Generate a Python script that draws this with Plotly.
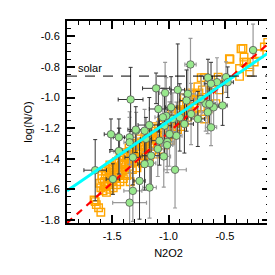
import plotly.graph_objects as go

# ---------------- data ----------------
# orange open squares (sample)
sq_x = [-1.66,-1.64,-1.62,-1.60,-1.65,
        -1.61,-1.60,-1.59,-1.58,-1.57,-1.56,-1.56,-1.55,-1.54,-1.53,-1.53,-1.52,-1.51,-1.50,-1.50,
        -1.49,-1.48,-1.47,-1.47,-1.46,-1.45,-1.44,-1.44,-1.43,-1.42,-1.41,-1.40,-1.40,-1.39,-1.38,
        -1.37,-1.37,-1.36,-1.35,-1.34,-1.34,-1.33,-1.32,-1.31,-1.30,-1.29,-1.28,-1.28,-1.27,-1.26,
        -1.25,-1.24,-1.23,-1.22,-1.21,-1.20,-1.19,-1.18,-1.17,-1.16,-1.15,-1.14,-1.13,-1.12,-1.11,
        -1.10,-1.09,-1.08,-1.07,-1.06,-1.05,-1.04,-1.03,-1.02,-1.01,-1.00,-0.99,-0.98,-0.97,-0.96,
        -0.95,-0.94,-0.93,-0.92,-0.91,-0.90,-0.89,-0.88,-0.87,-0.86,-0.85,-0.84,-0.83,-0.82,-0.80,
        -0.79,-0.78,-0.76,-0.75,-0.74,-0.72,-0.71,-0.70,-0.68,-0.68,-0.70,-0.65,-0.62,-0.58,-0.56,
        -0.55,-0.54,-0.46,-0.455,-0.37,-0.37,-0.357,-0.33,-0.33,-0.31,-0.28,-0.28,-0.24,-0.195,-0.15,
        -0.12,-0.34,
        -1.59,-1.57,-1.55,-1.54,-1.52,-1.51,-1.49,-1.48,-1.46,-1.45,-1.43,-1.42,-1.41,-1.39,-1.38,
        -1.36,-1.35,-1.33,-1.32,-1.30,-1.29,-1.27,-1.26,-1.24,-1.22,-1.20,-1.18,-1.16,-1.14,-1.12,
        -1.10,-1.08,-1.06,-1.04,-1.02,-0.99,-0.97,-0.94,-0.91,-0.88,-0.86,-0.83,-0.81,-0.77,-0.73]
sq_y = [-1.67,-1.70,-1.72,-1.75,-1.68,
        -1.56,-1.59,-1.53,-1.61,-1.55,-1.50,-1.58,-1.62,-1.53,-1.47,-1.57,-1.60,-1.51,-1.45,-1.55,
        -1.59,-1.49,-1.43,-1.53,-1.57,-1.46,-1.41,-1.51,-1.55,-1.44,-1.48,-1.39,-1.53,-1.43,-1.47,
        -1.37,-1.51,-1.41,-1.45,-1.35,-1.55,-1.40,-1.47,-1.33,-1.42,-1.37,-1.30,-1.46,-1.34,-1.40,
        -1.29,-1.36,-1.43,-1.31,-1.26,-1.39,-1.33,-1.28,-1.41,-1.24,-1.35,-1.30,-1.22,-1.37,-1.27,
        -1.32,-1.20,-1.25,-1.34,-1.29,-1.18,-1.23,-1.31,-1.16,-1.26,-1.21,-1.14,-1.28,-1.19,-1.12,
        -1.24,-1.17,-1.10,-1.21,-1.15,-1.08,-1.19,-1.12,-1.05,-1.16,-1.09,-1.03,-1.13,-1.07,-1.01,
        -1.10,-1.04,-0.98,-1.07,-0.93,-1.01,-0.87,-0.95,-0.87,-1.14,-1.11,-1.075,-0.92,-1.04,-0.867,
        -0.95,-0.88,-0.747,-0.75,-0.862,-0.81,-0.681,-0.77,-0.736,-0.77,-0.80,-0.834,-0.768,-0.714,-0.67,
        -0.64,-0.68,
        -1.51,-1.58,-1.48,-1.56,-1.44,-1.54,-1.46,-1.52,-1.42,-1.50,-1.38,-1.49,-1.44,-1.36,-1.50,
        -1.39,-1.33,-1.43,-1.37,-1.31,-1.40,-1.36,-1.27,-1.32,-1.38,-1.29,-1.23,-1.32,-1.26,-1.19,
        -1.28,-1.22,-1.16,-1.26,-1.20,-1.17,-1.10,-1.14,-1.09,-1.14,-1.00,-1.09,-0.97,-1.02,-0.97]

# green circles with black error bars
gk_x  = [-1.336,-1.65,-1.51,-1.44,-1.29,-1.11,-0.918,-0.65,-0.475,-1.09,-0.84,-1.17,-0.90,-1.20,
         -1.44,-1.316,-1.493,-1.08,-0.637,-0.74,-0.977,-1.154,-1.212,-1.257,-0.52,-0.623,-1.035,-0.859]
gk_y  = [-1.013,-1.475,-1.24,-1.26,-1.21,-0.94,-0.95,-0.87,-0.90,-1.075,-1.02,-1.18,-1.13,-1.27,
         -1.35,-1.391,-1.533,-1.282,-1.042,-1.14,-1.064,-1.38,-1.435,-1.545,-1.052,-0.91,-1.184,-1.173]
gk_ex = [0.11,0.10,0.06,0.05,0.07,0.12,0.06,0.04,0.05,0.08,0.06,0.10,0.07,0.05,
         0.08,0.07,0.06,0.07,0.05,0.06,0.05,0.08,0.06,0.05,0.04,0.06,0.06,0.08]
gk_ey = [0.21,0.20,0.10,0.12,0.15,0.10,0.30,0.12,0.10,0.15,0.20,0.18,0.22,0.14,
         0.15,0.18,0.10,0.16,0.15,0.18,0.20,0.20,0.17,0.25,0.13,0.14,0.22,0.19]

# green circles with grey error bars
gg_x  = [-0.805,-0.25,-1.03,-0.57,-0.60,-0.67,-1.02,-0.93,-1.01,-0.49,-1.345,-1.345,-1.287,-1.212,
         -1.434,-1.316,-1.345,-0.942,-1.168,-1.095,-0.829,-0.711,-0.652,-0.80,-0.962,-1.05,-0.623,
         -0.991,-1.163,-1.042,-1.012]
gg_y  = [-0.784,-0.69,-0.97,-0.90,-1.064,-1.04,-1.12,-1.25,-1.29,-0.867,-1.26,-1.293,-1.217,-1.217,
         -1.352,-1.61,-1.687,-1.472,-1.588,-1.336,-0.976,-1.009,-1.096,-1.108,-1.14,-1.129,-1.195,
         -1.239,-1.429,-1.385,-1.311]
gg_ex = [0.05,0.03,0.05,0.05,0.06,0.05,0.07,0.05,0.06,0.04,0.06,0.05,0.05,0.06,
         0.05,0.08,0.15,0.10,0.06,0.05,0.07,0.06,0.05,0.06,0.05,0.07,0.05,
         0.06,0.05,0.06,0.05]
gg_ey = [0.17,0.17,0.20,0.16,0.12,0.18,0.25,0.22,0.16,0.10,0.13,0.20,0.12,0.14,
         0.15,0.20,0.25,0.25,0.20,0.18,0.18,0.15,0.14,0.20,0.17,0.19,0.12,
         0.21,0.15,0.20,0.18]

# reference relations
solar_no = -0.86
cyan_slope, cyan_icpt = 0.505, -0.65
red_slope, red_icpt = 0.657, -0.572

x_range = [-1.9, -0.1]
y_range = [-1.82, -0.5]

x_tickvals = [-1.5, -1.0, -0.5]
x_ticktext = ["-1.5", "-1.0", "-0.5"]
y_tickvals = [-1.8, -1.6, -1.4, -1.2, -1.0, -0.8, -0.6]
y_ticktext = ["-1.8", "-1.6", "-1.4", "-1.2", "-1.0", "-0.8", "-0.6"]

FONT = "Liberation Sans, Arial, Helvetica, sans-serif"

fig = go.Figure()

fig.add_trace(go.Scatter(
    x=sq_x, y=sq_y, mode="markers",
    marker=dict(symbol="square-open", size=7.5, color="#FFA500", line=dict(width=1.4, color="#FFA500")),
    showlegend=False, hoverinfo="skip"))

fig.add_trace(go.Scatter(
    x=gg_x, y=gg_y, mode="markers",
    marker=dict(size=1, opacity=0),
    error_x=dict(type="data", array=gg_ex, color="#999999", thickness=1.2, width=2),
    error_y=dict(type="data", array=gg_ey, color="#999999", thickness=1.2, width=2),
    showlegend=False, hoverinfo="skip"))

fig.add_trace(go.Scatter(
    x=gk_x, y=gk_y, mode="markers",
    marker=dict(size=1, opacity=0),
    error_x=dict(type="data", array=gk_ex, color="#333333", thickness=1, width=2),
    error_y=dict(type="data", array=gk_ey, color="#333333", thickness=1, width=2),
    showlegend=False, hoverinfo="skip"))

fig.add_trace(go.Scatter(
    x=x_range, y=[red_slope * v + red_icpt for v in x_range], mode="lines",
    line=dict(color="#FF0000", width=2.2, dash="7px,6px"), showlegend=False, hoverinfo="skip"))

fig.add_trace(go.Scatter(
    x=gg_x + gk_x, y=gg_y + gk_y, mode="markers",
    marker=dict(symbol="circle", size=7.5, color="#98E88C", line=dict(width=0.8, color="#555555")),
    showlegend=False, hoverinfo="skip"))

fig.add_trace(go.Scatter(
    x=x_range, y=[cyan_slope * v + cyan_icpt for v in x_range], mode="lines",
    line=dict(color="#00FFFF", width=3), showlegend=False, hoverinfo="skip"))

fig.add_hline(y=solar_no, line=dict(color="black", width=1, dash="10px,8px"))

fig.add_annotation(x=-1.82, y=-0.81, text="solar", showarrow=False, xanchor="left",
                   yanchor="middle", font=dict(family=FONT, size=11, color="black"))

axis_common = dict(
    showgrid=False, zeroline=False, showline=True, linecolor="black", linewidth=2,
    mirror="allticks", ticks="inside", ticklen=8, tickwidth=1.5, tickcolor="black",
    tickfont=dict(family=FONT, size=11, color="black"),
)

fig.update_xaxes(range=x_range, tickmode="array", tickvals=x_tickvals, ticktext=x_ticktext,
                 minor=dict(tickmode="linear", tick0=-1.5, dtick=0.1, ticks="inside", ticklen=4,
                            tickwidth=1.2, tickcolor="black"),
                 title=dict(text="N2O2", font=dict(family=FONT, size=11, color="black"), standoff=8),
                 ticklabelstandoff=2, **axis_common)
fig.update_yaxes(range=y_range, tickmode="array", tickvals=y_tickvals, ticktext=y_ticktext,
                 minor=dict(tickmode="linear", tick0=-1.8, dtick=0.05, ticks="inside", ticklen=4,
                            tickwidth=1.2, tickcolor="black"),
                 title=dict(text="log(N/O)", font=dict(family=FONT, size=11, color="black"), standoff=6),
                 ticklabelstandoff=3, **axis_common)

fig.update_layout(width=275, height=275, margin=dict(l=59, r=13, t=13, b=60),
                  paper_bgcolor="white", plot_bgcolor="white",
                  font=dict(family=FONT, size=11, color="black"))

fig.write_html("out.html")
